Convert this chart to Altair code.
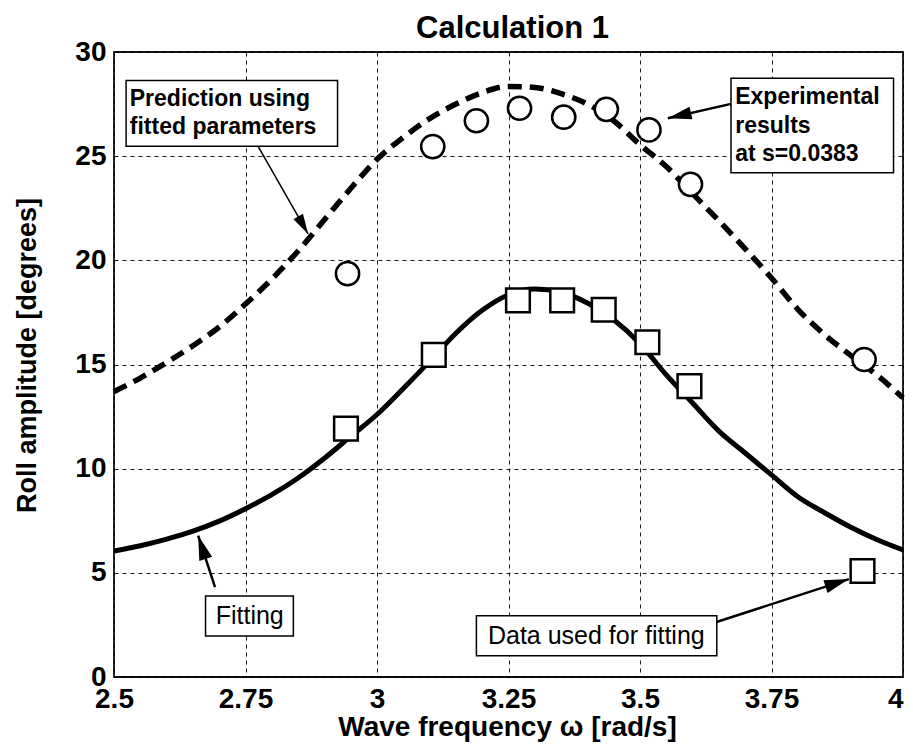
import math
import altair as alt
import pandas as pd

# ---------------- data ----------------
fit_x = [2.50, 2.55, 2.60, 2.65, 2.70, 2.75, 2.80, 2.85, 2.90, 2.95, 3.00, 3.05, 3.10,
         3.15, 3.20, 3.25, 3.30, 3.35, 3.40, 3.45, 3.50, 3.55, 3.60, 3.65, 3.70, 3.75,
         3.80, 3.85, 3.90, 3.95, 4.00]
fit_y = [6.05, 6.30, 6.62, 7.00, 7.48, 8.08, 8.75, 9.55, 10.50, 11.55, 12.60, 13.85, 15.15,
         16.50, 17.60, 18.35, 18.62, 18.48, 17.95, 17.15, 16.00, 14.50, 13.15, 11.80, 10.75, 9.70,
         8.65, 7.90, 7.20, 6.60, 6.10]
pred_y = [13.70, 14.35, 15.10, 15.90, 16.80, 17.90, 19.10, 20.45, 21.95, 23.45, 24.85, 25.90, 26.80,
          27.50, 28.05, 28.35, 28.30, 28.00, 27.50, 26.70, 25.55, 24.50, 23.20, 21.90, 20.55, 19.15,
          17.65, 16.45, 15.45, 14.50, 13.40]

exp_x = [2.944, 3.106, 3.189, 3.271, 3.355, 3.436, 3.517, 3.596, 3.926]
exp_y = [19.36, 25.46, 26.70, 27.30, 26.87, 27.25, 26.26, 23.65, 15.24]

used_x = [2.941, 3.108, 3.268, 3.352, 3.431, 3.514, 3.594, 3.923]
used_y = [11.92, 15.46, 18.08, 18.08, 17.63, 16.07, 13.96, 5.09]

x_ticks = [2.5, 2.75, 3.0, 3.25, 3.5, 3.75, 4.0]
y_ticks = [0, 5, 10, 15, 20, 25, 30]

title_text = "Calculation 1"
x_title = "Wave frequency ω [rad/s]"
y_title = "Roll amplitude [degrees]"

# ---------------- annotation placement (data coordinates) ----------------
boxes = pd.DataFrame({
    "x": [2.523, 3.673, 2.674, 3.189],
    "x2": [2.925, 3.982, 2.841, 3.646],
    "y": [28.63, 28.74, 3.89, 2.94],
    "y2": [25.48, 24.20, 1.97, 1.02],
})
bold_text = pd.DataFrame({
    "x": [2.530, 2.530, 3.681, 3.681, 3.681],
    "y": [27.75, 26.39, 27.83, 26.47, 25.11],
    "t": ["Prediction using", "fitted parameters", "Experimental", "results", "at s=0.0383"],
})
narrow_text = pd.DataFrame({
    "x": [2.758, 3.417],
    "y": [2.93, 1.98],
    "t": ["Fitting", "Data used for fitting"],
})
arrows = pd.DataFrame({
    "x": [2.774, 3.673, 2.692, 3.644],
    "y": [25.47, 27.51, 4.31, 2.63],
    "x2": [2.869, 3.553, 2.660, 3.897],
    "y2": [21.27, 26.82, 6.79, 4.70],
    "w": [1.5, 2.5, 2.5, 2.5],
    "hs": [400, 560, 600, 600],
})
W, H = 789, 625
ppx = W / 1.5
ppy = H / 30.0
arrows["ang"] = [
    math.degrees(math.atan2((r.x2 - r.x) * ppx, (r.y2 - r.y) * ppy)) % 360
    for r in arrows.itertuples()
]

fit_df = pd.DataFrame({"x": fit_x, "y": fit_y})
pred_df = pd.DataFrame({"x": fit_x, "y": pred_y})
exp_df = pd.DataFrame({"x": exp_x, "y": exp_y})
used_df = pd.DataFrame({"x": used_x, "y": used_y})

xs = alt.Scale(domain=[2.5, 4.0], nice=False, zero=False)
ys = alt.Scale(domain=[0, 30], nice=False, zero=False)

X = alt.X("x:Q", scale=xs, axis=alt.Axis(
    values=x_ticks, format=".2~f", title=x_title, grid=True,
    titleX=393, titleY=58, titleBaseline="alphabetic", titleAnchor="middle",
    titleFontSize=28, labelPadding=8, labelBaseline="top",
    labelAlign=alt.condition("datum.value >= 4", alt.value("right"), alt.value("center")),
))
Y = alt.Y("y:Q", scale=ys, axis=alt.Axis(
    values=y_ticks, format="d", title=y_title, grid=True,
    titleX=-73, titleY=303, titleFontSize=27, labelPadding=8,
))

base_font = "Liberation Sans, Arial, sans-serif"

pred_line = alt.Chart(pred_df).mark_line(
    color="black", strokeWidth=5.5, strokeDash=[14, 8], strokeCap="butt",
    interpolate="monotone"
).encode(x=X, y=Y)
fit_line = alt.Chart(fit_df).mark_line(
    color="black", strokeWidth=5, interpolate="monotone"
).encode(x="x:Q", y="y:Q")

circles = alt.Chart(exp_df).mark_point(
    shape="circle", size=540, filled=True, fill="white", stroke="black",
    strokeWidth=2.5, opacity=1
).encode(x="x:Q", y="y:Q")
squares = alt.Chart(used_df).mark_point(
    shape="square", size=560, filled=True, fill="white", stroke="black",
    strokeWidth=2.5, opacity=1
).encode(x="x:Q", y="y:Q")

shafts = alt.Chart(arrows).mark_rule(color="black").encode(
    x="x:Q", y="y:Q", x2="x2:Q", y2="y2:Q",
    strokeWidth=alt.StrokeWidth("w:Q", scale=None),
)
heads = alt.Chart(arrows).mark_point(
    shape="M0,0L0.55,2L-0.55,2Z", filled=True, color="black", opacity=1
).encode(
    x=alt.X("x2:Q"), y=alt.Y("y2:Q"),
    angle=alt.Angle("ang:Q", scale=None),
    size=alt.Size("hs:Q", scale=None),
)

box_marks = alt.Chart(boxes).mark_rect(
    fill="white", stroke="black", strokeWidth=1.5
).encode(x="x:Q", x2="x2:Q", y="y:Q", y2="y2:Q")

bold_marks = alt.Chart(bold_text).mark_text(
    align="left", baseline="middle", font=base_font, fontWeight="bold",
    fontSize=23, color="black"
).encode(x="x:Q", y="y:Q", text="t:N")

narrow_marks = alt.Chart(narrow_text).mark_text(
    align="center", baseline="middle", font=base_font, fontSize=25, color="black"
).encode(x="x:Q", y="y:Q", text="t:N")

chart = alt.layer(
    pred_line, fit_line, circles, squares, shafts, heads, box_marks, bold_marks, narrow_marks
).properties(
    width=W, height=H,
    title=alt.TitleParams(title_text, fontSize=31, fontWeight="bold", font=base_font,
                          anchor="middle", offset=10, color="black", dx=4, dy=17),
    autosize="none",
    padding={"left": 106, "top": 44, "right": 2, "bottom": 66},
).configure_view(
    stroke="#111", strokeWidth=1.8
).configure_axis(
    labelFont=base_font, labelFontWeight="bold", labelFontSize=28, labelColor="black",
    titleFont=base_font, titleFontWeight="bold", titleColor="black",
    domain=False, ticks=False, labelFlush=False, labelOverlap=False,
    gridColor="black", gridDash=[4, 4], gridWidth=1, gridOpacity=0.9,
)

chart.save("out.html", embed_options={"renderer": "svg", "actions": False})
